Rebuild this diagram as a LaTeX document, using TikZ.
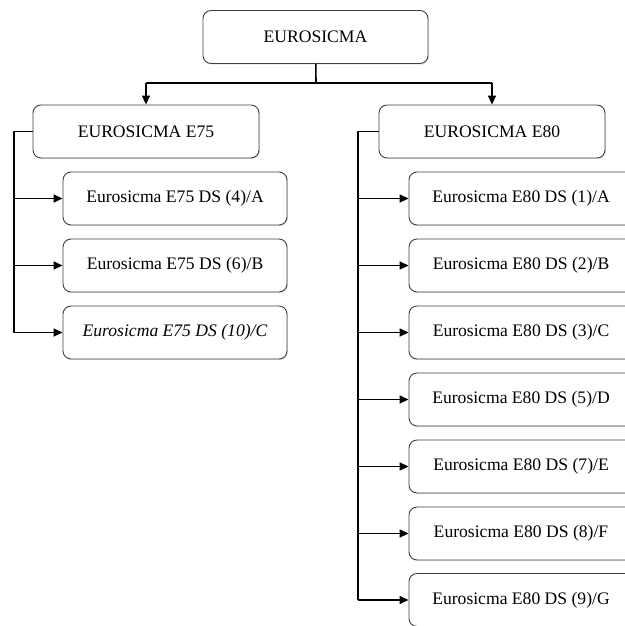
\documentclass[tikz,border=0pt]{standalone}
\usepackage{fontspec}
\setmainfont{Liberation Serif}
\usetikzlibrary{arrows.meta,shadows}
\tikzset{
	box/.style={draw=black!75, fill=white, rounded corners=8pt, line width=0.9pt,
		minimum width=224pt, minimum height=53pt, inner sep=0pt,
		font=\fontsize{17.6}{20}\selectfont,
		drop shadow={shadow xshift=1pt, shadow yshift=-1.2pt, fill=black!20}},
	link/.style={line width=1.6pt},
	arr/.style={line width=1.6pt, -{Triangle[length=9pt,width=8pt]}},
}

\begin{document}
\begin{tikzpicture}[x=1pt,y=-1pt]
	\useasboundingbox (0,0) rectangle (624,626);
	\node[box, minimum width=225pt] (m) at (315.5,37) {EUROSICMA};
	\node[box, minimum width=226pt] (m75) at (146,131.5) {EUROSICMA E75};
	\node[box, minimum width=226pt] (m80) at (492,131.5) {EUROSICMA E80};
	% E75 branch
	\node[box] (d4) at (175,198.5) {Eurosicma E75 DS (4)/A};
	\node[box] (d6) at (175,265.5) {Eurosicma E75 DS (6)/B};
	\node[box] (d10) at (175,332.5) {\itshape Eurosicma E75 DS (10)/C};
	% E80 branch
	\node[box] (d1) at (521,198.5) {Eurosicma E80 DS (1)/A};
	\node[box] (d2) at (521,265.5) {Eurosicma E80 DS (2)/B};
	\node[box] (d3) at (521,332.5) {Eurosicma E80 DS (3)/C};
	\node[box] (d5) at (521,399.5) {Eurosicma E80 DS (5)/D};
	\node[box] (d7) at (521,466.5) {Eurosicma E80 DS (7)/E};
	\node[box] (d8) at (521,533.5) {Eurosicma E80 DS (8)/F};
	\node[box] (d9) at (521,600) {Eurosicma E80 DS (9)/G};
	% top split
	\coordinate (j) at (316,83);
	\coordinate (j75) at (146,83);
	\coordinate (j80) at (492,83);
	\draw [link] (m) -- (j);
	\draw [link] (j75) -- (j80);
	\draw [arr] (j75) -- (m75);
	\draw [arr] (j80) -- (m80);
	% left bracket
	\coordinate (b75) at (14,131.5);
	\draw [link] (m75.west) -- (b75) -- (b75 |- d10);
	\draw [arr] (b75 |- d4) -- (d4.west);
	\draw [arr] (b75 |- d6) -- (d6.west);
	\draw [arr] (b75 |- d10) -- (d10.west);
	% right bracket
	\coordinate (b80) at (358,131.5);
	\draw [link] (m80.west) -- (b80) -- (b80 |- d9);
	\draw [arr] (b80 |- d1) -- (d1.west);
	\draw [arr] (b80 |- d2) -- (d2.west);
	\draw [arr] (b80 |- d3) -- (d3.west);
	\draw [arr] (b80 |- d5) -- (d5.west);
	\draw [arr] (b80 |- d7) -- (d7.west);
	\draw [arr] (b80 |- d8) -- (d8.west);
	\draw [arr] (b80 |- d9) -- (d9.west);
\end{tikzpicture}
\end{document}
